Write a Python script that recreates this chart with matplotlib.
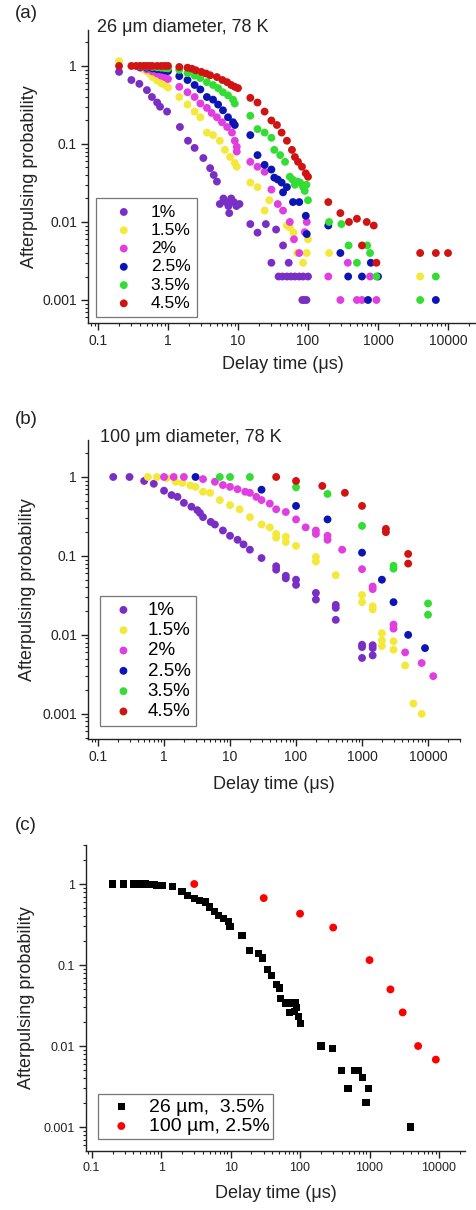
import matplotlib
matplotlib.use("Agg")
import matplotlib.pyplot as plt
from matplotlib.ticker import LogLocator, FuncFormatter, NullFormatter

plt.rcParams['font.family'] = ['Liberation Sans', 'DejaVu Sans']

# ---------------- data ----------------
labels_ab = ['1%', '1.5%', '2%', '2.5%', '3.5%', '4.5%']
colors_ab = ['#7a2fc4', '#f4e83a', '#e03ee0', '#0c14b4', '#33dd33', '#d01414']

# (a) 26 um diameter
a1_x = [0.2, 0.3, 0.39, 0.5, 0.59, 0.7, 0.77, 0.97, 1.48, 1.93, 2.4, 3.2, 4.0, 4.5, 5.0,
        5.5, 6.2, 6.8, 7.3, 8.0, 8.7, 9.5, 10.5, 7.5, 15, 19, 25, 35, 44, 30, 53,
        38, 43, 50, 57, 65, 75, 85, 100, 83, 88, 95]
a1_y = [0.84, 0.66, 0.59, 0.49, 0.40, 0.34, 0.30, 0.26, 0.165, 0.11, 0.089, 0.066, 0.049, 0.04, 0.033,
        0.017, 0.02, 0.018, 0.016, 0.02, 0.018, 0.016, 0.017, 0.013, 0.0094, 0.0073, 0.0094, 0.008, 0.005, 0.003, 0.003,
        0.002, 0.002, 0.002, 0.002, 0.002, 0.002, 0.002, 0.002, 0.001, 0.001, 0.001]
a2_x = [0.2, 0.4, 0.45, 0.5, 0.55, 0.6, 0.7, 0.8, 0.9, 1.0, 1.45, 1.9, 2.4, 2.9, 3.6, 4.4, 5.5,
        6.5, 7.7, 9.0, 9.6, 15, 19, 24, 28, 50, 55, 62, 70, 96, 85, 100, 200, 4000]
a2_y = [1.15, 0.95, 0.9, 0.85, 0.8, 0.72, 0.65, 0.6, 0.57, 0.53, 0.40, 0.32, 0.26, 0.22, 0.14, 0.13, 0.11,
        0.084, 0.068, 0.057, 0.051, 0.032, 0.028, 0.014, 0.019, 0.009, 0.0085, 0.0073, 0.004, 0.004, 0.003, 0.006, 0.004, 0.002]
a3_x = [0.4, 0.5, 0.6, 0.7, 0.8, 0.9, 1.0, 1.45, 1.9, 2.4, 2.9, 3.6, 4.2, 5.0, 5.9, 7.0, 8.2, 9.0, 9.6, 9.6,
        15, 19, 24, 30, 37, 44, 55, 63, 90, 96, 75, 195, 370, 770, 290, 500, 590, 950]
a3_y = [0.95, 0.9, 0.85, 0.8, 0.75, 0.72, 0.68, 0.54, 0.46, 0.40, 0.33, 0.29, 0.25, 0.22, 0.19, 0.165, 0.14, 0.11, 0.092, 0.08,
        0.059, 0.051, 0.044, 0.026, 0.017, 0.014, 0.01, 0.006, 0.0074, 0.01, 0.004, 0.002, 0.003, 0.002, 0.001, 0.001, 0.001, 0.001]
a4_x = [0.4, 0.5, 0.6, 0.7, 0.8, 0.9, 1.0, 1.45, 1.9, 2.4, 2.9, 3.6, 4.4, 5.2, 6.1, 7.2, 8.5, 9.0,
        15, 19, 24, 30, 33, 37, 42, 44, 50, 61, 75, 93, 96, 195, 290, 375, 590, 790, 1000, 720, 6700]
a4_y = [0.97, 0.95, 0.93, 0.91, 0.9, 0.88, 0.86, 0.74, 0.66, 0.57, 0.50, 0.40, 0.37, 0.32, 0.27, 0.22, 0.19, 0.175,
        0.13, 0.072, 0.054, 0.047, 0.037, 0.035, 0.032, 0.024, 0.028, 0.018, 0.018, 0.012, 0.007, 0.009, 0.004, 0.002, 0.002, 0.003, 0.002, 0.001, 0.001]
a5_x = [0.4, 0.5, 0.6, 0.7, 0.8, 0.9, 1.0, 1.45, 1.9, 2.4, 2.9, 3.6, 4.4, 5.2, 6.1, 7.2, 8.5, 9.0,
        15, 19, 24, 30, 33, 40, 47, 55, 60, 65, 70, 77, 85, 90, 95, 100, 200, 300, 380, 700, 770, 500, 950, 6700, 4000]
a5_y = [0.99, 0.98, 0.97, 0.96, 0.95, 0.94, 0.93, 0.89, 0.81, 0.75, 0.70, 0.62, 0.57, 0.52, 0.46, 0.42, 0.37, 0.33,
        0.23, 0.155, 0.14, 0.12, 0.084, 0.072, 0.059, 0.038, 0.035, 0.03, 0.033, 0.032, 0.028, 0.025, 0.03, 0.019,
        0.01, 0.0094, 0.005, 0.005, 0.004, 0.003, 0.002, 0.002, 0.001]
a6_x = [0.2, 0.3, 0.35, 0.4, 0.45, 0.5, 0.55, 0.6, 0.7, 0.8, 0.9, 1.0, 1.45, 1.9, 2.2, 2.5, 3, 3.5, 4, 5, 6,
        7, 8, 9, 10, 15, 19, 24, 30, 36, 42, 50, 59, 65, 72, 82, 93, 100, 195, 290, 385, 500, 690, 870,
        590, 950, 4000, 6700, 10000]
a6_y = [1.0, 1.0, 1.0, 1.0, 1.0, 1.0, 1.0, 1.0, 1.0, 1.0, 1.0, 1.0, 0.97, 0.95, 0.92, 0.88, 0.84, 0.80, 0.76, 0.72, 0.66,
        0.62, 0.57, 0.54, 0.52, 0.39, 0.34, 0.26, 0.20, 0.175, 0.14, 0.11, 0.084, 0.068, 0.059, 0.051, 0.042, 0.038,
        0.018, 0.013, 0.01, 0.011, 0.01, 0.009, 0.005, 0.003, 0.004, 0.004, 0.004]

# (b) 100 um diameter
b1_x = [0.17, 0.30, 0.5, 0.7, 1.0, 1.3, 1.6, 2.0, 2.6, 3.2, 3.5, 3.9, 5.1, 5.9, 7.8, 10, 13, 16, 20, 30,
        50, 50, 70, 70, 100, 100, 200, 200, 400, 400, 400, 1000, 1000, 1000, 1450, 1450, 1450]
b1_y = [1.0, 1.0, 0.89, 0.82, 0.67, 0.59, 0.56, 0.47, 0.42, 0.38, 0.35, 0.31, 0.27, 0.25, 0.21, 0.18, 0.16, 0.14, 0.12, 0.094,
        0.074, 0.067, 0.056, 0.052, 0.05, 0.043, 0.034, 0.028, 0.024, 0.022, 0.0155, 0.0075, 0.007, 0.0051, 0.0074, 0.0068, 0.0055]
b2_x = [0.57, 0.78, 1.1, 1.5, 1.9, 2.5, 3.0, 3.9, 5, 7, 10, 14, 20, 30, 40, 50, 50, 70, 70, 100,
        200, 200, 400, 1000, 1000, 1450, 1450, 2000, 2000, 2000, 3000, 3000, 4500, 6000, 8000]
b2_y = [1.0, 1.0, 0.97, 0.87, 0.84, 0.78, 0.75, 0.65, 0.63, 0.51, 0.44, 0.39, 0.31, 0.25, 0.23, 0.19, 0.17, 0.175, 0.15, 0.134,
        0.097, 0.085, 0.057, 0.032, 0.026, 0.023, 0.021, 0.0105, 0.0085, 0.0072, 0.0083, 0.0065, 0.0041, 0.00135, 0.001]
b3_x = [1.0, 1.4, 2.0, 3.9, 5.9, 7.8, 10, 13, 17, 20, 25, 30, 40, 50, 70, 100, 140, 200, 200, 300, 300,
        500, 1000, 1450, 1450, 3000, 3000, 4500, 8000, 12000]
b3_y = [1.0, 1.0, 1.0, 0.94, 0.87, 0.79, 0.75, 0.70, 0.65, 0.63, 0.56, 0.51, 0.46, 0.39, 0.36, 0.29, 0.23, 0.21, 0.19, 0.18, 0.16,
        0.12, 0.068, 0.041, 0.038, 0.0135, 0.012, 0.006, 0.0044, 0.003]
b4_x = [3.0, 30, 100, 300, 1000, 2000, 3000, 5000, 9000]
b4_y = [1.0, 0.69, 0.43, 0.29, 0.11, 0.05, 0.026, 0.01, 0.0068]
b5_x = [7, 10, 20, 100, 300, 1000, 3000, 3000, 10000, 10000]
b5_y = [1.0, 1.0, 1.0, 0.74, 0.61, 0.24, 0.075, 0.069, 0.025, 0.018]
b6_x = [50, 100, 250, 550, 1000, 2300, 2300, 5000, 5000]
b6_y = [1.0, 0.89, 0.77, 0.63, 0.43, 0.22, 0.20, 0.106, 0.08]

# (c) comparison
c1_x = [0.2, 0.29, 0.4, 0.45, 0.5, 0.55, 0.6, 0.65, 0.7, 0.75, 0.8, 0.85, 0.9, 1.03, 1.45, 2.0, 2.4, 3.0,
        3.6, 4.3, 5.0, 5.8, 6.8, 7.8, 9.2, 9.8, 14.6, 19, 25, 29, 34, 39, 46, 51, 53, 61, 72, 85,
        70, 82, 90, 94, 100, 200, 295, 390, 490, 600, 700, 790, 890, 980, 3900]
c1_y = [1.0, 1.0, 1.0, 1.0, 1.0, 1.0, 1.0, 0.99, 0.99, 0.98, 0.98, 0.97, 0.96, 0.95, 0.92, 0.8, 0.73, 0.67,
        0.62, 0.6, 0.52, 0.46, 0.41, 0.38, 0.34, 0.30, 0.23, 0.153, 0.14, 0.122, 0.087, 0.075, 0.057, 0.052, 0.039,
        0.034, 0.034, 0.034, 0.026, 0.027, 0.03, 0.023, 0.019, 0.01, 0.0092, 0.005, 0.003, 0.005, 0.005, 0.0041,
        0.002, 0.003, 0.001]
c2_x = [3, 30, 100, 300, 1000, 2000, 3000, 5000, 9000]
c2_y = [1.0, 0.67, 0.43, 0.29, 0.115, 0.05, 0.026, 0.01, 0.0068]

# ---------------- figure ----------------
W, H = 477, 1210
fig = plt.figure(figsize=(W / 100, H / 100), dpi=100)


def add_ax(left, top, right, bottom):
    return fig.add_axes([left / W, 1 - bottom / H, (right - left) / W, (bottom - top) / H])


def style(ax, xlim, ylim, fs):
    ax.set_xscale('log')
    ax.set_yscale('log')
    ax.set_xlim(*xlim)
    ax.set_ylim(*ylim)
    for s in ['top', 'right']:
        ax.spines[s].set_visible(False)
    for s in ['left', 'bottom']:
        ax.spines[s].set_color('#222222')
        ax.spines[s].set_linewidth(1.0)
    fmt = FuncFormatter(lambda v, p: f"{v:g}")
    for axis in [ax.xaxis, ax.yaxis]:
        axis.set_major_locator(LogLocator(base=10, numticks=20))
        axis.set_minor_locator(LogLocator(base=10, subs=range(2, 10), numticks=20))
        axis.set_major_formatter(fmt)
        axis.set_minor_formatter(NullFormatter())
    ax.tick_params(which='major', direction='out', length=5, width=1.0, color='#222222',
                   labelsize=fs, labelcolor='#222222', pad=3)
    ax.tick_params(which='minor', direction='out', length=2.5, width=0.8, color='#222222')
    ax.set_xlabel('Delay time (μs)', fontsize=13, color='#222222')
    ax.set_ylabel('Afterpulsing probability', fontsize=13, color='#222222')


def fpos(x, y):
    return x / W, 1 - y / H


# (a)
ax_a = add_ax(88, 30, 477, 323)
style(ax_a, (0.072, 25950), (0.000507, 2.89), 10)
for xs, ys, c, lab in zip([a1_x, a2_x, a3_x, a4_x, a5_x, a6_x], [a1_y, a2_y, a3_y, a4_y, a5_y, a6_y],
                          colors_ab, labels_ab):
    ax_a.scatter(xs, ys, s=32, color=c, edgecolors='none', label=lab, clip_on=False)
ax_a.xaxis.set_label_coords(0.5, -0.113)
ax_a.yaxis.set_label_coords(-0.128, 0.5)
leg = ax_a.legend(loc='lower left', bbox_to_anchor=((96 - 88) / 389, (323 - 317) / 293), borderaxespad=0,
                  fontsize=12.5, frameon=True, fancybox=False, edgecolor='#555555', borderpad=0.35,
                  labelspacing=0.18, handlelength=2.5, handletextpad=0.3, scatterpoints=1)
leg.get_frame().set_linewidth(0.9)

# (b)
ax_b = add_ax(88, 440, 460, 739)
style(ax_b, (0.0705, 30500), (0.00048, 2.94), 10)
for xs, ys, c, lab in zip([b1_x, b2_x, b3_x, b4_x, b5_x, b6_x], [b1_y, b2_y, b3_y, b4_y, b5_y, b6_y],
                          colors_ab, labels_ab):
    ax_b.scatter(xs, ys, s=32, color=c, edgecolors='none', label=lab, clip_on=False)
ax_b.xaxis.set_label_coords(0.5, -0.124)
ax_b.yaxis.set_label_coords(-0.14, 0.5)
leg = ax_b.legend(loc='lower left', bbox_to_anchor=((100 - 88) / 372, (739 - 726) / 299), borderaxespad=0,
                  fontsize=13.5, frameon=True, fancybox=False, edgecolor='#555555', borderpad=0.3,
                  labelspacing=0.17, handlelength=1.9, handletextpad=0.35, scatterpoints=1)
leg.get_frame().set_linewidth(0.9)

# (c)
ax_c = add_ax(86, 845, 465, 1151)
style(ax_c, (0.083, 23660), (0.000506, 3.03), 9)
ax_c.scatter(c1_x, c1_y, s=26, marker='s', color='black', edgecolors='none', label='26 µm,  3.5%')
ax_c.scatter(c2_x, c2_y, s=32, marker='o', color='#ff0000', edgecolors='none', label='100 µm, 2.5%')
ax_c.xaxis.set_label_coords(0.5, -0.111)
ax_c.yaxis.set_label_coords(-0.135, 0.5)
leg = ax_c.legend(loc='lower left', bbox_to_anchor=((98 - 86) / 379, (1151 - 1139) / 306), borderaxespad=0,
                  fontsize=14, frameon=True, fancybox=False, edgecolor='#555555', borderpad=0.2,
                  labelspacing=0.1, handlelength=2.0, handletextpad=0.4, scatterpoints=1)
leg.get_frame().set_linewidth(0.9)

# panel letters and titles
for lab, y in [('(a)', 14), ('(b)', 420), ('(c)', 826)]:
    fig.text(*fpos(15, y), lab, fontsize=13.5, color='#222222', ha='left', va='center')
fig.text(*fpos(97, 27), '26 μm diameter, 78 K', fontsize=13, color='#222222', ha='left', va='center')
fig.text(*fpos(100, 437), '100 μm diameter, 78 K', fontsize=13, color='#222222', ha='left', va='center')

fig.savefig('out.png', dpi=100)
